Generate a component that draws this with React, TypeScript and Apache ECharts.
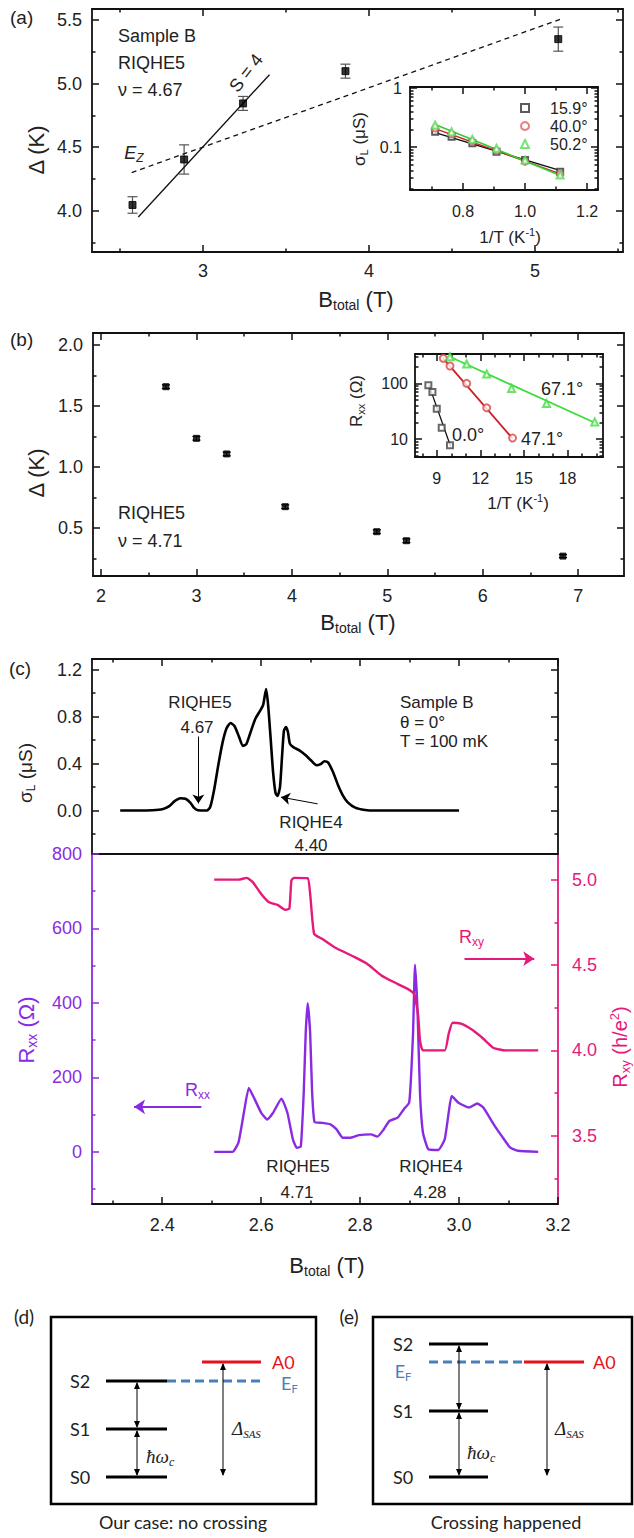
import React, { useEffect, useRef } from 'react';
import * as echarts from 'echarts';

const FONT = '"Liberation Sans", Arial, Helvetica, sans-serif';
const DFONT = 'Lato, "Open Sans", sans-serif';
const MFONT = '"Liberation Serif", "DejaVu Serif", serif';
const PURPLE = '#8a2be2';
const PINK = '#e5197a';

// ---------- Panel (a) ----------
const aB = [2.575, 2.886, 3.241, 3.858, 5.14];
const aGap = [4.045, 4.403, 4.844, 5.098, 5.35];
const aErr = [0.065, 0.115, 0.055, 0.055, 0.095];
const aFitS4 = [[2.61, 3.95], [3.40, 5.07]];
const aFitEz = [[2.57, 4.30], [5.15, 5.505]];
const aXTicks = [3, 4, 5];
const aXMinor = [2.5, 3.5, 4.5, 5.5];
const aYTicks = [4.0, 4.5, 5.0, 5.5];
const aYMinor = [3.75, 4.25, 4.75, 5.25];

// inset (a)
const aInvT = [0.71, 0.763, 0.83, 0.908, 1.0, 1.113];
const aSig159 = [0.182, 0.15, 0.116, 0.083, 0.06, 0.038];
const aSig400 = [0.207, 0.166, 0.126, 0.087, 0.056, 0.035];
const aSig502 = [0.236, 0.182, 0.135, 0.095, 0.06, 0.0337];
const aFit159 = [[0.71, 0.175], [1.12, 0.039]];
const aFit400 = [[0.71, 0.205], [1.12, 0.034]];
const aFit502 = [[0.71, 0.24], [1.12, 0.032]];
const aInsetNames = ['15.9°', '40.0°', '50.2°'];

// ---------- Panel (b) ----------
const bB = [2.68, 3.0, 3.317, 3.93, 4.89, 5.2, 6.84];
const bGap = [1.658, 1.235, 1.107, 0.675, 0.47, 0.396, 0.27];
const bErr = [0.015, 0.015, 0.015, 0.015, 0.015, 0.015, 0.012];
const bXTicks = [2, 3, 4, 5, 6, 7];
const bXMinor = [2.5, 3.5, 4.5, 5.5, 6.5];
const bYTicks = [0.5, 1.0, 1.5, 2.0];
const bYMinor = [0.25, 0.75, 1.25, 1.75];

// inset (b)
const b0InvT = [8.42, 8.7, 9.0, 9.34, 9.91];
const b0R = [93, 70, 35, 16, 7.8];
const b47InvT = [9.45, 9.91, 11.06, 12.44, 14.22];
const b47R = [281, 205, 100, 36.5, 10.5];
const b67InvT = [9.91, 11.06, 12.44, 14.15, 16.56, 19.88];
const b67R = [300, 222, 147, 81, 43.7, 20.4];
const bFit0 = [[8.45, 95], [9.95, 7.5]];
const bFit47 = [[9.4, 290], [14.22, 10.3]];
const bFit67 = [[9.9, 300], [20.0, 19.1]];

// ---------- Panel (c) ----------
const cSigma = [[2.315, 0], [2.35, 0], [2.38, 0.002], [2.40, 0.01], [2.415, 0.04], [2.425, 0.08], [2.437, 0.105], [2.447, 0.1], [2.457, 0.065], [2.465, 0.02], [2.472, 0.002], [2.49, 0], [2.497, 0.03], [2.505, 0.18], [2.513, 0.38], [2.522, 0.58], [2.53, 0.70], [2.538, 0.745], [2.546, 0.72], [2.555, 0.63], [2.563, 0.55], [2.57, 0.565], [2.578, 0.66], [2.588, 0.78], [2.598, 0.85], [2.604, 0.9], [2.61, 1.035], [2.614, 0.9], [2.619, 0.62], [2.624, 0.33], [2.629, 0.15], [2.633, 0.125], [2.638, 0.2], [2.642, 0.45], [2.646, 0.68], [2.65, 0.71], [2.654, 0.67], [2.658, 0.57], [2.665, 0.54], [2.678, 0.51], [2.69, 0.47], [2.70, 0.43], [2.712, 0.385], [2.72, 0.395], [2.728, 0.42], [2.735, 0.41], [2.745, 0.33], [2.755, 0.22], [2.765, 0.13], [2.775, 0.07], [2.79, 0.025], [2.81, 0.005], [2.83, 0], [2.9, 0], [3.0, 0]];
const cRxx = [[2.505, 0], [2.542, 0], [2.554, 25], [2.565, 105], [2.575, 172], [2.587, 141], [2.6, 105], [2.612, 87], [2.624, 105], [2.641, 143], [2.653, 105], [2.664, 34], [2.672, 11], [2.68, 14], [2.686, 159], [2.69, 319], [2.694, 399], [2.699, 319], [2.703, 159], [2.708, 80], [2.723, 78], [2.74, 74], [2.752, 61], [2.765, 38], [2.781, 38], [2.798, 45], [2.822, 47], [2.835, 41], [2.847, 59], [2.859, 83], [2.876, 92], [2.888, 114], [2.899, 132], [2.903, 203], [2.907, 319], [2.911, 503], [2.916, 381], [2.921, 159], [2.927, 52], [2.938, 7], [2.958, 5], [2.971, 34], [2.979, 105], [2.985, 150], [2.999, 132], [3.02, 119], [3.037, 130], [3.049, 119], [3.07, 74], [3.086, 43], [3.103, 12], [3.119, 3], [3.16, 0]];
const cRxy = [[2.505, 5.0], [2.554, 5.0], [2.571, 5.01], [2.583, 4.985], [2.6, 4.916], [2.616, 4.867], [2.633, 4.852], [2.649, 4.823], [2.657, 4.83], [2.661, 4.994], [2.666, 5.01], [2.694, 5.008], [2.699, 4.916], [2.707, 4.682], [2.723, 4.653], [2.748, 4.604], [2.789, 4.546], [2.814, 4.507], [2.843, 4.439], [2.868, 4.40], [2.896, 4.36], [2.909, 4.331], [2.917, 4.214], [2.921, 4.058], [2.927, 4.0], [2.971, 4.0], [2.979, 4.097], [2.987, 4.162], [3.004, 4.156], [3.028, 4.117], [3.049, 4.068], [3.07, 4.014], [3.094, 4.0], [3.16, 4.0]];
const cArrowRIQHE5 = [[2.473, 0.63], [2.473, 0.06]];
const cArrowRIQHE4 = [[2.714, 0.057], [2.640, 0.114]];
const cArrowRxx = [[2.479, 121], [2.343, 121]];
const cArrowRxy = [[3.011, 4.537], [3.152, 4.537]];
const cXTicks = [2.4, 2.6, 2.8, 3.0, 3.2];
const cXMinor = [2.3, 2.5, 2.7, 2.9, 3.1];
const cSigTicks = [0, 0.4, 0.8, 1.2];
const cSigMinor = [-0.2, 0.2, 0.6, 1.0];
const cRxxTicks = [0, 200, 400, 600, 800];
const cRxxMinor = [-100, 100, 300, 500, 700];
const cRxyTicks = [3.5, 4.0, 4.5, 5.0];
const cRxyMinor = [3.25, 3.75, 4.25, 4.75];

type Scale = { type?: 'value' | 'log'; min: number; max: number; major: number[]; minor: number[]; labels?: number[]; fmt?: (v: number) => string };
type SideOpt = { labels?: boolean; line?: boolean; ticks?: boolean; color?: string; lineColor?: string; size?: number; margin?: number };

const f1 = (v: number) => v.toFixed(1);
const fs = (v: number) => String(v);

function buildOption() {
  const grids: any[] = [];
  const xAxes: any[] = [];
  const yAxes: any[] = [];

  function mkAxis(grid: number, pos: string, sc: Scale, minor: boolean, o: SideOpt) {
    const isX = pos === 'top' || pos === 'bottom';
    const lc = o.lineColor ?? '#111';
    const cfg: any = {
      gridIndex: grid, type: sc.type ?? 'value', position: pos, min: sc.min, max: sc.max, silent: true,
      splitLine: { show: false }, minorTick: { show: false }, minorSplitLine: { show: false },
      axisLine: { show: !minor && o.line !== false, onZero: false, lineStyle: { color: lc, width: 1.8 } },
      axisTick: { show: o.ticks !== false, inside: true, length: minor ? 3.5 : 7, customValues: minor ? sc.minor : sc.major, lineStyle: { color: lc, width: 1.5 } },
      axisLabel: (!minor && o.labels) ? { show: true, customValues: sc.labels ?? sc.major, formatter: sc.fmt ?? fs, color: o.color ?? '#222', fontSize: o.size ?? 18, fontFamily: FONT, margin: o.margin ?? 10 } : { show: false },
    };
    if (cfg.type === 'log') cfg.logBase = 10;
    const arr = isX ? xAxes : yAxes;
    arr.push(cfg);
    return arr.length - 1;
  }

  function panel(rect: any, xs: Scale, ys: Scale, o: { xb?: SideOpt; xt?: SideOpt; yl?: SideOpt; yr?: SideOpt; ysR?: Scale }) {
    const g = grids.length;
    grids.push({ ...rect, containLabel: false, show: false });
    grids.push({ ...rect, containLabel: false, show: false });
    const res = {
      x: mkAxis(g, 'bottom', xs, false, o.xb ?? {}),
      xt: mkAxis(g, 'top', xs, false, o.xt ?? {}),
      y: mkAxis(g, 'left', ys, false, o.yl ?? {}),
      yr: mkAxis(g, 'right', o.ysR ?? ys, false, o.yr ?? {}),
    };
    mkAxis(g + 1, 'bottom', xs, true, o.xb ?? {});
    mkAxis(g + 1, 'top', xs, true, o.xt ?? {});
    mkAxis(g + 1, 'left', ys, true, o.yl ?? {});
    mkAxis(g + 1, 'right', o.ysR ?? ys, true, o.yr ?? {});
    return res;
  }

  const pa = panel({ left: 92, top: 9, width: 531, height: 243 },
    { min: 2.331, max: 5.53, major: aXTicks, minor: aXMinor },
    { min: 3.675, max: 5.587, major: aYTicks, minor: aYMinor, fmt: f1 },
    { xb: { labels: true, margin: 10 }, yl: { labels: true, margin: 10 } });
  const pai = panel({ left: 410, top: 87, width: 188, height: 103 },
    { min: 0.629, max: 1.235, major: [0.8, 1.0, 1.2], minor: [0.7, 0.9, 1.1], fmt: f1 },
    { type: 'log', min: 0.0187, max: 1.04, major: [0.1, 1], minor: [0.02, 0.03, 0.04, 0.05, 0.06, 0.07, 0.08, 0.09, 0.2, 0.3, 0.4, 0.5, 0.6, 0.7, 0.8, 0.9] },
    { xb: { labels: true, size: 16, margin: 13 }, yl: { labels: true, size: 16, margin: 8 } });
  const pb = panel({ left: 93, top: 333, width: 531, height: 243 },
    { min: 1.916, max: 7.48, major: bXTicks, minor: bXMinor },
    { min: 0.107, max: 2.098, major: bYTicks, minor: bYMinor, fmt: f1 },
    { xb: { labels: true, margin: 11 }, yl: { labels: true, margin: 10 } });
  const pbi = panel({ left: 415, top: 354, width: 188, height: 103 },
    { min: 7.5, max: 20.45, major: [9, 12, 15, 18], minor: [8, 10, 11, 13, 14, 16, 17, 19, 20] },
    { type: 'log', min: 4.8, max: 336, major: [10, 100], minor: [5, 6, 7, 8, 9, 20, 30, 40, 50, 60, 70, 80, 90, 200, 300] },
    { xb: { labels: true, size: 16, margin: 13 }, yl: { labels: true, size: 16, margin: 7 } });
  const pct = panel({ left: 92, top: 659, width: 466, height: 195 },
    { min: 2.258, max: 3.2, major: cXTicks, minor: cXMinor },
    { min: -0.37, max: 1.29, major: cSigTicks, minor: cSigMinor, fmt: f1 },
    { xb: { ticks: false }, yl: { labels: true, margin: 10 } });
  const pcb = panel({ left: 92, top: 854, width: 466, height: 350 },
    { min: 2.258, max: 3.2, major: cXTicks, minor: cXMinor, fmt: f1 },
    { min: -140, max: 800, major: cRxxTicks, minor: cRxxMinor },
    {
      xb: { labels: true, margin: 12 }, xt: { line: false, ticks: false },
      yl: { labels: true, color: PURPLE, lineColor: PURPLE, margin: 10 },
      yr: { labels: true, color: PINK, lineColor: PINK, margin: 14 },
      ysR: { min: 3.10, max: 5.15, major: cRxyTicks, minor: cRxyMinor, fmt: f1 },
    });

  const errItem = (color: string, cap: number) => (params: any, api: any) => {
    const x = api.value(0), y = api.value(1), e = api.value(2);
    const p1 = api.coord([x, y + e]);
    const p2 = api.coord([x, y - e]);
    const st = { stroke: color, lineWidth: 1.2 };
    return {
      type: 'group', children: [
        { type: 'line', shape: { x1: p1[0], y1: p1[1], x2: p2[0], y2: p2[1] }, style: st },
        { type: 'line', shape: { x1: p1[0] - cap, y1: p1[1], x2: p1[0] + cap, y2: p1[1] }, style: st },
        { type: 'line', shape: { x1: p2[0] - cap, y1: p2[1], x2: p2[0] + cap, y2: p2[1] }, style: st },
      ],
    };
  };

  const zip = (xs: number[], ys: number[]) => xs.map((x, i) => [x, ys[i]]);
  const lineS = (xi: number, yi: number, data: any, color: string, width: number, extra: any = {}) => ({
    type: 'line', xAxisIndex: xi, yAxisIndex: yi, data, symbol: 'none', silent: true,
    lineStyle: { color, width, ...(extra.lineStyle ?? {}) }, z: extra.z ?? 3, smooth: extra.smooth ?? false, ...(extra.rest ?? {}),
  });
  const scat = (name: string, xi: number, yi: number, data: any, symbol: string, color: string, size: number) => ({
    type: 'scatter', name, xAxisIndex: xi, yAxisIndex: yi, data, symbol, symbolSize: size, silent: true,
    itemStyle: { color, borderColor: color, borderWidth: 1 }, z: 4,
  });
  const arrowML = (arrows: number[][][], color: string, width: number, size: number) => ({
    silent: true, symbol: ['none', 'arrow'], symbolSize: size, label: { show: false },
    lineStyle: { color, width, type: 'solid' }, emphasis: { disabled: true },
    data: arrows.map((a) => [{ coord: a[0] }, { coord: a[1] }]),
  });

  const series: any[] = [
    // (a)
    { type: 'custom', xAxisIndex: pa.x, yAxisIndex: pa.y, data: aB.map((b, i) => [b, aGap[i], aErr[i]]), encode: { x: 0, y: 1 }, renderItem: errItem('#555', 5), silent: true, z: 3 },
    scat('gapA', pa.x, pa.y, zip(aB, aGap), 'rect', '#000', 7),
    lineS(pa.x, pa.y, aFitS4, '#111', 1.3),
    lineS(pa.x, pa.y, aFitEz, '#111', 1.3, { lineStyle: { type: [5, 4] } }),
    // inset (a)
    lineS(pai.x, pai.y, aFit159, '#111', 1.4),
    lineS(pai.x, pai.y, aFit400, '#cc2020', 1.4),
    lineS(pai.x, pai.y, aFit502, '#33cc33', 1.6),
    scat(aInsetNames[0], pai.x, pai.y, zip(aInvT, aSig159), 'emptyRect', '#333', 6),
    scat(aInsetNames[1], pai.x, pai.y, zip(aInvT, aSig400), 'emptyCircle', '#e06060', 6),
    scat(aInsetNames[2], pai.x, pai.y, zip(aInvT, aSig502), 'emptyTriangle', '#55dd55', 7),
    // (b)
    { type: 'custom', xAxisIndex: pb.x, yAxisIndex: pb.y, data: bB.map((b, i) => [b, bGap[i], bErr[i]]), encode: { x: 0, y: 1 }, renderItem: errItem('#000', 4), silent: true, z: 3 },
    scat('gapB', pb.x, pb.y, zip(bB, bGap), 'rect', '#000', 6),
    // inset (b)
    lineS(pbi.x, pbi.y, bFit0, '#111', 1.3),
    lineS(pbi.x, pbi.y, bFit47, '#c8202a', 1.8),
    lineS(pbi.x, pbi.y, bFit67, '#3ddc3d', 1.8),
    scat('b0', pbi.x, pbi.y, zip(b0InvT, b0R), 'emptyRect', '#444', 6),
    scat('b47', pbi.x, pbi.y, zip(b47InvT, b47R), 'emptyCircle', '#d84848', 7),
    scat('b67', pbi.x, pbi.y, zip(b67InvT, b67R), 'emptyTriangle', '#44dd44', 7),
    // (c) top
    lineS(pct.x, pct.y, cSigma, '#000', 2.6, { smooth: 0.2, rest: { markLine: arrowML([cArrowRIQHE5, cArrowRIQHE4], '#000', 1, 9) } }),
    // (c) bottom
    lineS(pcb.x, pcb.y, cRxx, PURPLE, 2.4, { smooth: 0.15, rest: { markLine: arrowML([cArrowRxx], PURPLE, 2, 11) } }),
    lineS(pcb.x, pcb.yr, cRxy, PINK, 2.4, { smooth: 0.15, rest: { markLine: arrowML([cArrowRxy], PINK, 2, 11) } }),
  ];

  // ---------- texts ----------
  type Part = [string, 'n' | 's' | 'p'];
  const rich = (parts: Part[], size: number, color: string, o: { italic?: boolean; family?: string; sub?: number } = {}) => {
    const fam = o.family ?? FONT;
    const ss = o.sub ?? Math.round(size * 0.64);
    const fst = o.italic ? 'italic' : 'normal';
    return {
      text: parts.map(([s, k]) => `{${k}|${s}}`).join(''),
      rich: {
        n: { fontSize: size, lineHeight: size + 4, fill: color, color, fontFamily: fam, fontStyle: fst },
        s: { fontSize: ss, lineHeight: ss, verticalAlign: 'bottom', fill: color, color, fontFamily: fam, fontStyle: fst },
        p: { fontSize: ss, lineHeight: ss, verticalAlign: 'top', fill: color, color, fontFamily: fam, fontStyle: fst },
      },
    };
  };
  const T = (x: number, y: number, content: any, o: any = {}) => {
    const isRich = typeof content !== 'string';
    const align = o.align ?? 'left';
    return {
      type: 'text', x, y, rotation: ((o.rot ?? 0) * Math.PI) / 180, silent: true, z: 50,
      style: {
        text: isRich ? content.text : content, rich: isRich ? content.rich : undefined,
        fill: o.color ?? '#222', fontSize: o.size ?? 18, fontFamily: o.family ?? FONT,
        fontStyle: o.italic ? 'italic' : 'normal', align, textAlign: align, verticalAlign: 'middle', textVerticalAlign: 'middle',
      },
    };
  };
  const BT = (c = '#222') => rich([['B', 'n'], ['total', 's'], [' (T)', 'n']], 22, c, { sub: 14 });

  const el: any[] = [
    // (a)
    T(10, 17, '(a)', { size: 19 }),
    T(36, 150, 'Δ (K)', { size: 22, rot: 90, align: 'center' }),
    T(356, 299, BT(), { align: 'center' }),
    T(118, 36, 'Sample B'),
    T(118, 63, 'RIQHE5'),
    T(118, 90, 'ν = 4.67'),
    T(246, 73, 'S = 4', { rot: 52, align: 'center' }),
    T(134, 153, rich([['E', 'n'], ['Z', 's']], 18, '#222', { italic: true, sub: 12 }), { align: 'center' }),
    T(359, 139, rich([['σ', 'n'], ['L', 's'], [' (μS)', 'n']], 17, '#222', { sub: 11 }), { rot: 90, align: 'center' }),
    T(510, 237, rich([['1/T (K', 'n'], ['-1', 'p'], [')', 'n']], 17, '#222', { sub: 11 }), { align: 'center' }),
    // (b)
    T(10, 339, '(b)', { size: 19 }),
    T(36, 473, 'Δ (K)', { size: 22, rot: 90, align: 'center' }),
    T(358, 622, BT(), { align: 'center' }),
    T(118, 513, 'RIQHE5'),
    T(118, 541, 'ν = 4.71'),
    T(356, 401, rich([['R', 'n'], ['xx', 's'], [' (Ω)', 'n']], 17, '#222', { sub: 11 }), { rot: 90, align: 'center' }),
    T(518, 503, rich([['1/T (K', 'n'], ['-1', 'p'], [')', 'n']], 17, '#222', { sub: 11 }), { align: 'center' }),
    T(541, 389, '67.1°', { size: 18 }),
    T(452, 435, '0.0°', { size: 18 }),
    T(521, 439, '47.1°', { size: 18 }),
    // (c)
    T(9, 668, '(c)', { size: 19 }),
    T(25, 773, rich([['σ', 'n'], ['L', 's'], [' (μS)', 'n']], 19, '#222', { sub: 12 }), { rot: 90, align: 'center' }),
    T(200, 702, 'RIQHE5', { align: 'center', size: 17 }),
    T(197, 727, '4.67', { align: 'center', size: 17 }),
    T(311, 822, 'RIQHE4', { align: 'center', size: 17 }),
    T(311, 845, '4.40', { align: 'center', size: 17 }),
    T(400, 702, 'Sample B', { size: 17 }),
    T(400, 722, 'θ = 0°', { size: 17 }),
    T(400, 741, 'T = 100 mK', { size: 17 }),
    T(459, 937, rich([['R', 'n'], ['xy', 's']], 18, PINK, { sub: 12 })),
    T(185, 1090, rich([['R', 'n'], ['xx', 's']], 18, PURPLE, { sub: 12 })),
    T(298, 1166, 'RIQHE5', { align: 'center', size: 17 }),
    T(297, 1192, '4.71', { align: 'center', size: 17 }),
    T(431, 1166, 'RIQHE4', { align: 'center', size: 17 }),
    T(430, 1192, '4.28', { align: 'center', size: 17 }),
    T(26, 1030, rich([['R', 'n'], ['xx', 's'], [' (Ω)', 'n']], 22, PURPLE, { sub: 14 }), { rot: 90, align: 'center' }),
    T(620, 1047, rich([['R', 'n'], ['xy', 's'], [' (h/e', 'n'], ['2', 'p'], [')', 'n']], 20, PINK, { sub: 13 }), { rot: 90, align: 'center' }),
    T(327, 1265, BT(), { align: 'center' }),
  ];

  // ---------- (d) and (e) schematic ----------
  const lvl = (x1: number, x2: number, y: number, color = '#000', dash?: number[]) => ({
    type: 'line', silent: true, shape: { x1, y1: y, x2, y2: y }, style: { stroke: color, lineWidth: 3, lineDash: dash },
  });
  const dArrow = (x: number, y1: number, y2: number) => {
    const h = 7, w = 3;
    return [
      { type: 'line', silent: true, shape: { x1: x, y1: y1 + 2, x2: x, y2: y2 - 2 }, style: { stroke: '#000', lineWidth: 1 } },
      { type: 'polygon', silent: true, shape: { points: [[x, y1 + 1], [x - w, y1 + 1 + h], [x + w, y1 + 1 + h]] }, style: { fill: '#000' } },
      { type: 'polygon', silent: true, shape: { points: [[x, y2 - 1], [x - w, y2 - 1 - h], [x + w, y2 - 1 - h]] }, style: { fill: '#000' } },
    ];
  };
  const box = (x: number, y: number, w: number, h: number) => ({
    type: 'rect', silent: true, shape: { x, y, width: w, height: h }, style: { fill: 'none', stroke: '#000', lineWidth: 2.5 },
  });
  const BLUE = '#4a7ebb';
  const RED = '#e8101a';
  const hw = () => rich([['ħω', 'n'], ['c', 's']], 19, '#222', { italic: true, family: MFONT, sub: 12 });
  const dsas = () => rich([['Δ', 'n'], ['SAS', 's']], 19, '#222', { italic: true, family: MFONT, sub: 11 });
  const ef = () => rich([['E', 'n'], ['F', 's']], 18, BLUE, { family: DFONT, sub: 11 });

  el.push(
    box(51, 1317, 265, 187),
    T(24, 1316, '(d)', { size: 19, align: 'center', family: DFONT }),
    lvl(106, 167, 1381), lvl(106, 167, 1429), lvl(106, 167, 1477),
    lvl(167, 260, 1381, BLUE, [9, 5]),
    lvl(202, 261, 1362, RED),
    T(80, 1381, 'S2', { align: 'center', family: DFONT }),
    T(80, 1429, 'S1', { align: 'center', family: DFONT }),
    T(80, 1477, 'S0', { align: 'center', family: DFONT }),
    T(272, 1362, 'A0', { color: RED, family: DFONT }),
    T(281, 1383, ef()),
    ...dArrow(137, 1381, 1429), ...dArrow(137, 1429, 1477), ...dArrow(223, 1362, 1477),
    T(146, 1456, hw()),
    T(232, 1428, dsas()),
    T(183, 1522, 'Our case: no crossing', { align: 'center', family: DFONT }),

    box(373, 1317, 259, 187),
    T(349, 1316, '(e)', { size: 19, align: 'center', family: DFONT }),
    lvl(429, 488, 1344), lvl(429, 488, 1411), lvl(429, 488, 1477),
    lvl(429, 524, 1362, BLUE, [9, 5]),
    lvl(524, 584, 1362, RED),
    T(403, 1344, 'S2', { align: 'center', family: DFONT }),
    T(403, 1371, ef(), { align: 'center' }),
    T(403, 1411, 'S1', { align: 'center', family: DFONT }),
    T(403, 1477, 'S0', { align: 'center', family: DFONT }),
    T(593, 1362, 'A0', { color: RED, family: DFONT }),
    ...dArrow(459, 1344, 1411), ...dArrow(459, 1411, 1477), ...dArrow(547, 1362, 1477),
    T(467, 1452, hw()),
    T(555, 1428, dsas()),
    T(506, 1522, 'Crossing happened', { align: 'center', family: DFONT }),
  );

  return {
    animation: false,
    backgroundColor: '#fff',
    textStyle: { fontFamily: FONT },
    grid: grids,
    xAxis: xAxes,
    yAxis: yAxes,
    legend: {
      show: true, data: aInsetNames, left: 520, top: 100, orient: 'vertical', itemWidth: 8, itemHeight: 8, itemGap: 2,
      padding: 0, selectedMode: false,
      textStyle: { fontSize: 16, color: '#222', fontFamily: FONT, padding: [0, 0, 0, 16] },
    },
    series,
    graphic: { elements: el },
  };
}

export default function App() {
  const ref = useRef<HTMLDivElement>(null);
  useEffect(() => {
    document.body.style.margin = '0';
    const chart = echarts.init(ref.current as HTMLDivElement, undefined, { renderer: 'svg' });
    chart.setOption(buildOption() as any);
    return () => chart.dispose();
  }, []);
  return <div ref={ref} style={{ position: 'absolute', left: 0, top: 0, width: 634, height: 1538, background: '#fff' }} />;
}
